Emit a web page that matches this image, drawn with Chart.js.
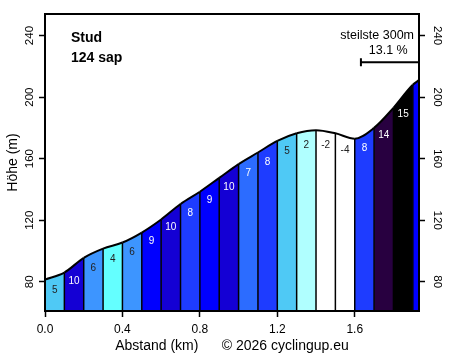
<!DOCTYPE html>
<html><head><meta charset="utf-8">
<script src="https://cdn.jsdelivr.net/npm/chart.js@4/dist/chart.umd.min.js"></script>
<style>html,body{margin:0;padding:0;background:#fff}#wrap{width:459px;height:358px}</style>
</head><body><div id="wrap"><canvas id="c" width="459" height="358"></canvas></div>
<script>
// ---- data ----
const distKm = [0, 0.1, 0.2, 0.3, 0.4, 0.5, 0.6, 0.7, 0.8, 0.9, 1.0, 1.1, 1.2, 1.3, 1.4, 1.5, 1.6, 1.7, 1.8, 1.9, 1.932];
const elevM = [81.5, 86, 95.5, 101.5, 105.5, 112, 120.5, 130.5, 138.5, 147.5, 156.5, 164, 171.5, 176.5, 178.5, 176.5, 173, 180, 193, 208, 211];
const gradeLabels = ['5', '10', '6', '4', '6', '9', '10', '8', '9', '10', '7', '8', '5', '2', '-2', '-4', '8', '14', '15', ''];
const segColors = ['#4fc9f5', '#1400d4', '#3d95ff', '#64ffff', '#3d95ff', '#0000ff', '#1400d4', '#1e3cff', '#0000ff', '#1400d4',
                   '#2c6cff', '#1e3cff', '#4fc9f5', '#b0ffff', '#ffffff', '#ffffff', '#1e3cff', '#280040', '#000000', '#0000ff'];
const labelColors = ['#222', '#fff', '#222', '#222', '#222', '#fff', '#fff', '#fff', '#fff', '#fff',
                     '#fff', '#fff', '#222', '#222', '#222', '#222', '#fff', '#fff', '#fff', '#fff'];
const xTicks = [0, 0.4, 0.8, 1.2, 1.6];
const yTicks = [80, 120, 160, 200, 240];
const yRange = [61, 254];
const climbName = 'Stud';
const climbScore = '124 sap';
const steepTexts = ['steilste 300m', '13.1 %'];
const steepLenKm = 0.3;
const xTitle = 'Abstand (km)      \u00a9 2026 cyclingup.eu';
const yTitle = 'H\u00f6he (m)';

const FONT = "'Liberation Sans', Arial, sans-serif";
Chart.defaults.font.family = FONT;
Chart.defaults.color = '#000';

const overlay = {
  id: 'overlay',
  afterDatasetsDraw(chart) {
    const {ctx, chartArea: a, scales: {x, y}} = chart;
    ctx.save();
    // separators
    ctx.strokeStyle = '#000';
    ctx.lineWidth = 1.5;
    for (let i = 1; i < distKm.length - 1; i++) {
      const px = x.getPixelForValue(distKm[i]);
      ctx.beginPath();
      ctx.moveTo(px, a.bottom);
      ctx.lineTo(px, y.getPixelForValue(elevM[i]));
      ctx.stroke();
    }
    // grade labels
    ctx.font = '10px ' + FONT;
    ctx.textAlign = 'center';
    ctx.textBaseline = 'middle';
    for (let i = 0; i < gradeLabels.length; i++) {
      if (!gradeLabels[i]) continue;
      const px = (x.getPixelForValue(distKm[i]) + x.getPixelForValue(distKm[i + 1])) / 2;
      const g = Math.abs(parseFloat(gradeLabels[i]));
      const py = y.getPixelForValue((elevM[i] + elevM[i + 1]) / 2) + 12.5 + 0.33 * g;
      ctx.fillStyle = labelColors[i];
      ctx.fillText(gradeLabels[i], px, py);
    }
    // box
    ctx.lineWidth = 2;
    ctx.strokeStyle = '#000';
    ctx.strokeRect(a.left, a.top, a.right - a.left, a.bottom - a.top);
    // name
    ctx.fillStyle = '#000';
    ctx.textAlign = 'left';
    ctx.font = 'bold 14px ' + FONT;
    ctx.fillText(climbName, a.left + 26, a.top + 24.3);
    ctx.fillText(climbScore, a.left + 26, a.top + 44);
    // steepest
    ctx.font = '12.5px ' + FONT;
    ctx.textAlign = 'right';
    ctx.fillText(steepTexts[0], a.right - 5, a.top + 21.7);
    ctx.fillText(steepTexts[1], a.right - 11.3, a.top + 36.7);
    const bx = x.getPixelForValue(distKm[distKm.length - 1] - steepLenKm);
    const by = a.top + 48.3;
    ctx.lineWidth = 2;
    ctx.beginPath();
    ctx.moveTo(bx, by); ctx.lineTo(a.right, by);
    ctx.moveTo(bx, by - 4); ctx.lineTo(bx, by + 4);
    ctx.stroke();
    ctx.restore();
  }
};

const tickGrid = {display: true, drawOnChartArea: false, drawTicks: true, tickLength: 6, tickColor: '#000', tickWidth: 1.5, color: '#000'};

new Chart(document.getElementById('c'), {
  type: 'line',
  data: {
    datasets: [{
      data: distKm.map((d, i) => ({x: d, y: elevM[i]})),
      borderColor: '#000',
      borderWidth: 2,
      pointRadius: 0,
      fill: 'start',
      backgroundColor: segColors[0],
      cubicInterpolationMode: 'monotone',
      segment: {backgroundColor: c => segColors[c.p0DataIndex]}
    }]
  },
  options: {
    responsive: false,
    devicePixelRatio: 1,
    animation: false,
    layout: {padding: {top: 14, left: 0, right: 0, bottom: 0}},
    plugins: {legend: {display: false}, tooltip: {enabled: false}},
    scales: {
      x: {
        type: 'linear', position: 'bottom',
        min: 0, max: distKm[distKm.length - 1],
        afterBuildTicks: s => { s.ticks = xTicks.map(v => ({value: v})); },
        ticks: {callback: v => v.toFixed(1), font: {size: 12}, color: '#000', padding: 5, minRotation: 0, maxRotation: 0, autoSkip: false},
        grid: tickGrid,
        border: {display: false},
        title: {display: true, text: xTitle, font: {size: 14}, color: '#000', padding: {top: 0, bottom: 3.6}},
        afterFit: s => { s.height = 47; }
      },
      y: {
        type: 'linear', position: 'left',
        min: yRange[0], max: yRange[1],
        afterBuildTicks: s => { s.ticks = yTicks.map(v => ({value: v})); },
        ticks: {font: {size: 11.5}, color: '#000', padding: 0, minRotation: 90, maxRotation: 90, crossAlign: 'center', autoSkip: false},
        grid: tickGrid,
        border: {display: false},
        title: {display: true, text: yTitle, font: {size: 14}, color: '#000', padding: {top: 4.6, bottom: 0}},
        afterFit: s => { s.width = 45; }
      },
      y2: {
        type: 'linear', position: 'right',
        min: yRange[0], max: yRange[1],
        afterBuildTicks: s => { s.ticks = yTicks.map(v => ({value: v})); },
        ticks: {font: {size: 11.5}, color: '#000', padding: 2.5, minRotation: -90, maxRotation: 90, crossAlign: 'center', autoSkip: false},
        grid: tickGrid,
        border: {display: false},
        afterFit: s => { s.width = 40; }
      }
    }
  },
  plugins: [overlay]
});
</script></body></html>
